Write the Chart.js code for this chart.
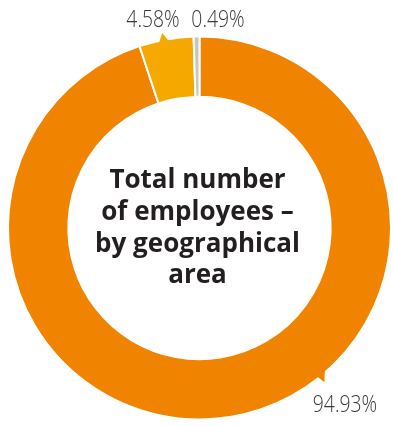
<!DOCTYPE html>
<html>
<head>
<meta charset="utf-8">
<script src="https://cdn.jsdelivr.net/npm/chart.js@4.4.0/dist/chart.umd.min.js"></script>
<style>
  html, body { margin: 0; padding: 0; background: #fff; }
  #wrap { width: 393px; height: 426px; position: relative; }
</style>
</head>
<body>
<div id="wrap"><canvas id="grafica"></canvas></div>
<script>
// datos
const areas = ['Area 1', 'Area 2', 'Area 3'];
const shares = [94.93, 4.58, 0.49];
const shareLabels = ['94.93%', '4.58%', '0.49%'];
const titleLines = ['Total number', 'of employees \u2013', 'by geographical', 'area'];

const sliceColours = ['#f08300', '#f5a800', '#c6c6c6'];

// etiquetas de porcentaje + triangulitos
const sliceLabels = {
  id: 'sliceLabels',
  afterDatasetsDraw(chart, args, opts) {
    const ctx = chart.ctx;
    const meta = chart.getDatasetMeta(0);
    meta.data.forEach((arc, i) => {
      const p = arc.getProps(['x', 'y', 'startAngle', 'endAngle', 'outerRadius'], true);
      const frac = opts.pointerAt[i];
      ctx.save();
      if (frac !== null) {
        const a = p.startAngle + (p.endAngle - p.startAngle) * frac;
        const r = p.outerRadius - 2;
        const half = 5 / p.outerRadius;
        ctx.fillStyle = sliceColours[i];
        ctx.beginPath();
        ctx.moveTo(p.x + r * Math.cos(a - half), p.y + r * Math.sin(a - half));
        ctx.lineTo(p.x + r * Math.cos(a + half), p.y + r * Math.sin(a + half));
        ctx.lineTo(p.x + (r + 9) * Math.cos(a + opts.skew[i]), p.y + (r + 9) * Math.sin(a + opts.skew[i]));
        ctx.closePath();
        ctx.fill();
      }
      // texto un poco condensado
      ctx.fillStyle = '#3a3a3a';
      ctx.font = '300 23px "Open Sans", sans-serif';
      ctx.textAlign = 'center';
      ctx.textBaseline = 'alphabetic';
      ctx.translate(opts.textPos[i][0], opts.textPos[i][1]);
      ctx.scale(0.84, 1);
      ctx.fillText(shareLabels[i], 0, 0);
      ctx.restore();
    });
  },
  afterDraw(chart) {
    const ctx = chart.ctx;
    const arc = chart.getDatasetMeta(0).data[0];
    ctx.save();
    ctx.fillStyle = '#231f20';
    ctx.font = 'bold 26px "Open Sans", sans-serif';
    ctx.textAlign = 'center';
    const offs = [-40, -8, 23.5, 55];
    titleLines.forEach((l, i) => {
      ctx.fillText(l, arc.x - 2, arc.y + offs[i]);
    });
    ctx.restore();
  }
};

new Chart(document.getElementById('grafica'), {
  type: 'doughnut',
  data: {
    labels: areas,
    datasets: [{
      data: shares,
      backgroundColor: sliceColours,
      borderColor: '#ffffff',
      borderWidth: 2,
      hoverOffset: 0
    }]
  },
  options: {
    responsive: true,
    maintainAspectRatio: false,
    animation: false,
    cutout: '68.5%',
    layout: { padding: { top: 35, left: 7, right: 1, bottom: 5 } },
    events: [],
    plugins: {
      legend: { display: false },
      tooltip: { enabled: false },
      sliceLabels: {
        pointerAt: [0.41, 0.45, null],
        skew: [0.015, 0, 0],
        textPos: [[345, 412], [153, 27], [218, 27]]
      }
    }
  },
  plugins: [sliceLabels]
});
</script>
</body>
</html>
